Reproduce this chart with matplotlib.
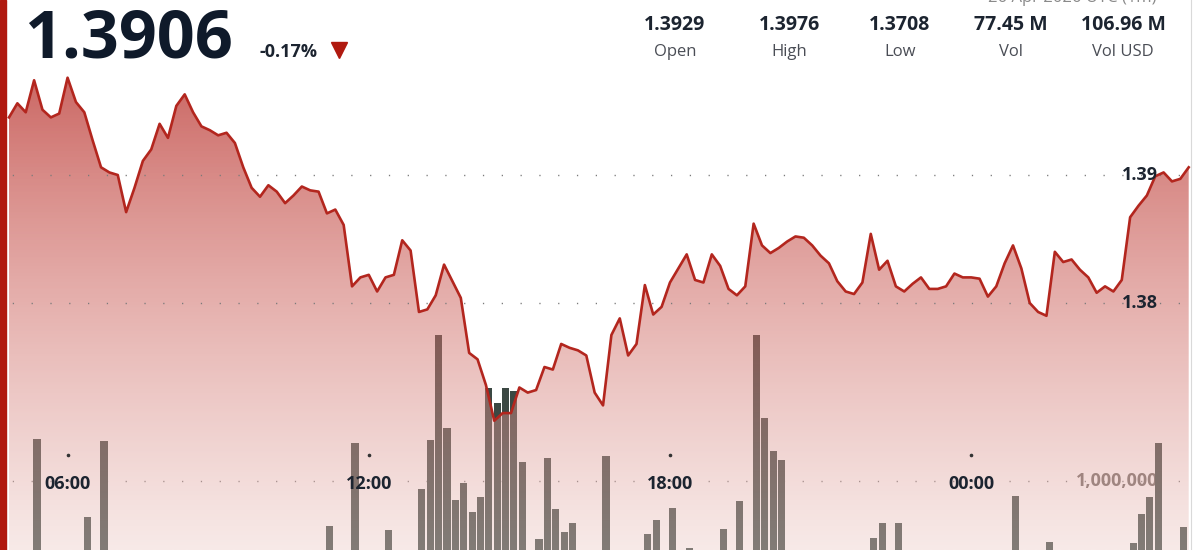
import numpy as np
import matplotlib
matplotlib.use("Agg")
import matplotlib.pyplot as plt
from matplotlib.patches import PathPatch, Rectangle
from matplotlib.lines import Line2D
import matplotlib.transforms as mtransforms

plt.rcParams['font.family'] = ['Open Sans', 'DejaVu Sans']

# ---------------- data ----------------
start_hour = 4 + 50 / 60          # 04:50
step_h = 10 / 60                  # 10-minute candles

prices = [
    1.3945, 1.3956, 1.3949, 1.3974, 1.3951, 1.3945, 1.3948, 1.3976, 1.3957, 1.3949,
    1.3927, 1.3906, 1.3902, 1.3900, 1.3871, 1.3890, 1.3911, 1.3920, 1.3940, 1.3929,
    1.3954, 1.3963, 1.3949, 1.3938, 1.3935, 1.3931, 1.3933, 1.3925, 1.3906, 1.3890,
    1.3883, 1.3892, 1.3887, 1.3878, 1.3884, 1.3891, 1.3888, 1.3887, 1.3870, 1.3873,
    1.3861, 1.3813, 1.3820, 1.3822, 1.3809, 1.3820, 1.3822, 1.3849, 1.3841, 1.3793,
    1.3795, 1.3806, 1.3830, 1.3817, 1.3804, 1.3761, 1.3756, 1.3736, 1.3708, 1.3714,
    1.3714, 1.3734, 1.3730, 1.3732, 1.3750, 1.3748, 1.3768, 1.3765, 1.3763, 1.3759,
    1.3730, 1.3720, 1.3775, 1.3788, 1.3759, 1.3768, 1.3814, 1.3791, 1.3797, 1.3816,
    1.3827, 1.3838, 1.3818, 1.3816, 1.3838, 1.3829, 1.3811, 1.3806, 1.3813, 1.3862,
    1.3845, 1.3839, 1.3843, 1.3848, 1.3852, 1.3851, 1.3845, 1.3837, 1.3831, 1.3817,
    1.3809, 1.3807, 1.3816, 1.3854, 1.3826, 1.3833, 1.3813, 1.3809, 1.3815, 1.3820,
    1.3811, 1.3811, 1.3813, 1.3823, 1.3820, 1.3820, 1.3819, 1.3805, 1.3813, 1.3831,
    1.3845, 1.3827, 1.3800, 1.3793, 1.3790, 1.3840, 1.3832, 1.3834, 1.3826, 1.3820,
    1.3808, 1.3813, 1.3809, 1.3818, 1.3867, 1.3876, 1.3884, 1.3899, 1.3902, 1.3895,
    1.3897, 1.3906,
]

volumes_m = [
    0.08, 0.05, 0.07, 1.53, 0.06, 0.04, 0.09, 0.05, 0.07, 0.54,
    0.06, 1.51, 0.05, 0.04, 0.06, 0.08, 0.05, 0.04, 0.06, 0.07,
    0.05, 0.06, 0.04, 0.05, 0.07, 0.06, 0.05, 0.04, 0.06, 0.08,
    0.05, 0.07, 0.06, 0.05, 0.04, 0.06, 0.09, 0.07, 0.43, 0.06,
    0.08, 1.48, 0.07, 0.05, 0.09, 0.38, 0.06, 0.10, 0.09, 0.90,
    1.52, 2.85, 1.67, 0.76, 0.97, 0.61, 0.80, 2.18, 1.99, 2.18,
    2.14, 1.24, 0.10, 0.27, 1.29, 0.65, 0.35, 0.47, 0.09, 0.11,
    0.08, 1.32, 0.10, 0.07, 0.09, 0.06, 0.33, 0.51, 0.08, 0.66,
    0.07, 0.15, 0.06, 0.09, 0.08, 0.39, 0.10, 0.75, 0.11, 2.85,
    1.80, 1.38, 1.27, 0.10, 0.08, 0.07, 0.06, 0.09, 0.05, 0.07,
    0.06, 0.08, 0.10, 0.28, 0.47, 0.09, 0.47, 0.08, 0.06, 0.07,
    0.05, 0.09, 0.06, 0.04, 0.05, 0.07, 0.06, 0.08, 0.10, 0.09,
    0.81, 0.07, 0.06, 0.10, 0.23, 0.09, 0.07, 0.05, 0.06, 0.08,
    0.07, 0.09, 0.11, 0.10, 0.22, 0.58, 0.80, 1.48, 0.09, 0.11,
    0.42, 0.08,
]

time_ticks = [6, 12, 18, 24]
time_labels = ['06:00', '12:00', '18:00', '00:00']
price_ticks = [1.38, 1.39]
price_labels = ['1.38', '1.39']
vol_tick = 1_000_000
vol_label = '1,000,000'

last_price = '1.3906'
change_pct = '-0.17%'
stat_values = ['1.3929', '1.3976', '1.3708', '77.45 M', '106.96 M']
stat_names = ['Open', 'High', 'Low', 'Vol', 'Vol USD']
date_text = '26 Apr 2026 UTC (1m)'

# ---------------- layout ----------------
W, H = 1194, 550
px_per_hour = 50.2
line_x0 = 9
price_ref, price_ref_px, px_per_price = 1.39, 175, 12800
vol_base_px, px_per_m = 560, 79

times = start_hour + step_h * np.arange(len(prices))
prices = np.array(prices)
volumes = np.array(volumes_m) * 1e6

fig = plt.figure(figsize=(W / 100, H / 100), dpi=100)
fig.patch.set_facecolor('white')
ax_v = fig.add_axes([0, 0, 1, 1])
ax_p = ax_v.twinx()

xlim = (start_hour - line_x0 / px_per_hour, start_hour + (W - line_x0) / px_per_hour)
plim = (price_ref - (H - price_ref_px) / px_per_price, price_ref + price_ref_px / px_per_price)
vlim = ((vol_base_px - H) / px_per_m * 1e6, vol_base_px / px_per_m * 1e6)
for a in (ax_v, ax_p):
    a.set_xlim(*xlim)
    a.axis('off')
ax_v.set_ylim(*vlim)
ax_p.set_ylim(*plim)
ax_p.patch.set_visible(False)

def fy(py):
    return 1 - py / H

def fx(px):
    return px / W

dark = '#1c2430'
red = '#b3261e'

# dotted grid
dot_style = dict(color='#7a7a7a', lw=1.0, linestyle=(4.7, (0.9, 12.64)))
ax_v.axhline(vol_tick, zorder=1, **dot_style)
for pt in price_ticks:
    ax_p.axhline(pt, zorder=3, **dot_style)

# volume label (under bars and fill)
bt_v = mtransforms.blended_transform_factory(ax_v.transAxes, ax_v.transData)
ax_v.text(fx(1076), vol_tick, vol_label, transform=bt_v, ha='left', va='center',
          fontsize=13, fontweight='bold', color='#6e6864', zorder=1)

# volume bars
ax_v.bar(times + 0.35 * step_h, volumes, width=0.85 * step_h, color='#3b4843',
         align='center', zorder=2)

# gradient area fill
ny = 400
fr = np.linspace(0, 1, ny)           # 0 = bottom, 1 = top
pix = (1 - fr) * H
stops_px = [0, 70, 300, 550]
stops_rgba = np.array([
    [186, 55, 50, 0.80],
    [188, 58, 53, 0.78],
    [204, 96, 90, 0.50],
    [236, 202, 197, 0.40],
])
grad = np.zeros((ny, 2, 4))
for c in range(4):
    grad[:, :, c] = np.interp(pix, stops_px, stops_rgba[:, c])[:, None]
grad[:, :, :3] /= 255.0
fill = ax_p.fill_between(times, prices, plim[0], facecolor='none', edgecolor='none')
clip = PathPatch(fill.get_paths()[0], transform=ax_p.transData, facecolor='none', edgecolor='none')
ax_p.add_patch(clip)
im = ax_p.imshow(grad, extent=(xlim[0], xlim[1], plim[0], plim[1]), origin='lower',
                 aspect='auto', zorder=2, interpolation='bilinear')
im.set_clip_path(clip)

# price line
ax_p.plot(times, prices, color=red, lw=1.9, zorder=5, solid_joinstyle='round')

# price labels
bt_p = mtransforms.blended_transform_factory(ax_p.transAxes, ax_p.transData)
for pt, lab in zip(price_ticks, price_labels):
    ax_p.text(fx(1158), pt, lab, transform=bt_p, ha='right', va='center',
              fontsize=13, fontweight='bold', color=dark, zorder=6)

# time labels & tick dots
bt_t = mtransforms.blended_transform_factory(ax_p.transData, ax_p.transAxes)
for t, lab in zip(time_ticks, time_labels):
    ax_p.text(t, fy(484), lab, transform=bt_t, ha='center', va='center',
              fontsize=13, fontweight='bold', color=dark, zorder=6)
ax_p.plot(time_ticks, [fy(455)] * len(time_ticks), transform=bt_t, ls='none',
          marker='o', ms=1.6, color='#333333', zorder=6)

# header
fig.text(fx(24), fy(57), last_price, fontsize=48, fontweight='bold', color='#0f1a2a',
         ha='left', va='baseline')
fig.text(fx(259), fy(57), change_pct, fontsize=13, fontweight='bold', color=dark,
         ha='left', va='baseline')
fig.add_artist(Line2D([fx(339)], [fy(50)], marker='v', markersize=12, color='#b0190f',
                      transform=fig.transFigure, ls='none'))

stat_x = [675, 789, 900, 1011, 1123]
for x, v, n in zip(stat_x, stat_values, stat_names):
    fig.text(fx(x), fy(30), v, fontsize=14, fontweight='bold', color=dark,
             ha='center', va='baseline')
    fig.text(fx(x), fy(56), n, fontsize=12, color='#4a4d55', ha='center', va='baseline')
fig.text(fx(1157), fy(-2), date_text, fontsize=12, color='#8a8a8a', ha='right', va='center')

# left red bar and right border
fig.add_artist(Rectangle((0, 0), fx(6), 1, transform=fig.transFigure,
                         color='#b0190f', zorder=10))
fig.add_artist(Line2D([fx(1190.5)] * 2, [0, 1], color='#d9d9d9', lw=0.8,
                      transform=fig.transFigure))

fig.savefig('out.png', dpi=100)
